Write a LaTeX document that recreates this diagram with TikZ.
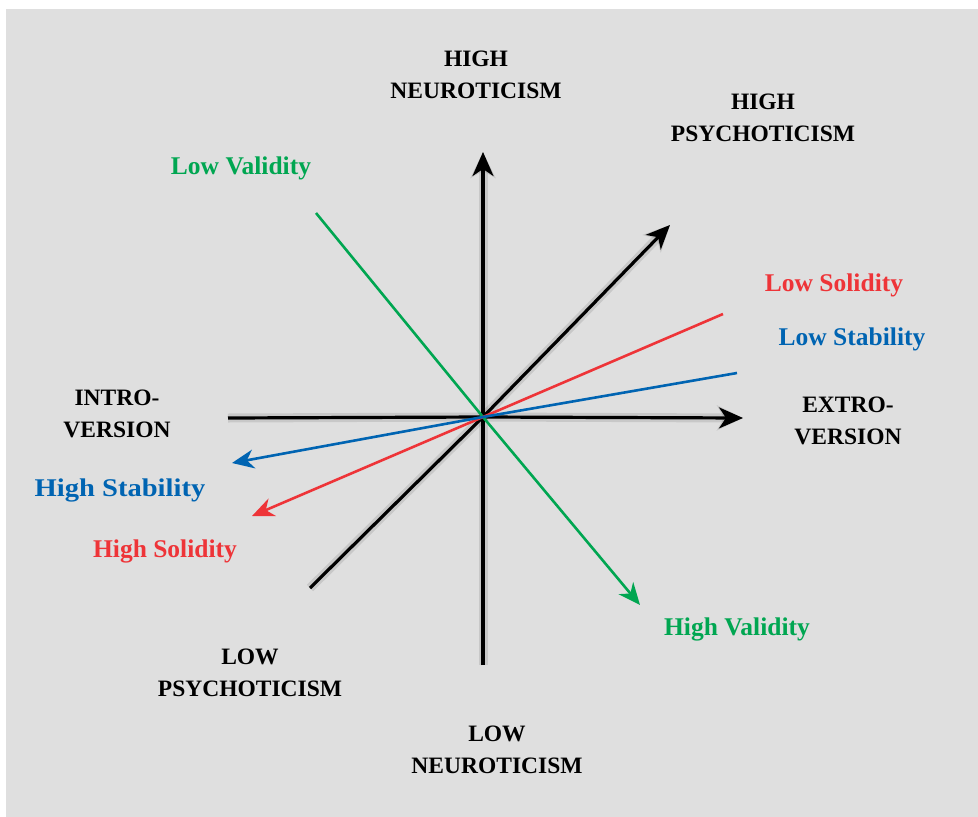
\documentclass[tikz,border=0pt]{standalone}
\usepackage{fontspec}
\setmainfont{Liberation Serif}
\usetikzlibrary{arrows.meta}

\definecolor{panel}{RGB}{223,223,223}
\definecolor{valgreen}{RGB}{0,166,81}
\definecolor{solred}{RGB}{238,52,56}
\definecolor{stabblue}{RGB}{0,100,178}

\tikzset{
  axis/.style={line width=3.2pt, black,
    -{Stealth[length=24pt,width=21pt,inset=7pt]}},
  axisplain/.style={line width=3.2pt, black},
  axisshadow/.style={line width=9pt, black, opacity=0.10,
    -{Stealth[length=26pt,width=25pt,inset=7pt]}},
  axisshadowplain/.style={line width=9pt, black, opacity=0.10},
  trait/.style={line width=2.6pt,
    -{Stealth[length=22pt,width=19pt,inset=7pt]}},
  traitplain/.style={line width=2.6pt},
  pole/.style={align=center, font=\fontsize{23.5}{32}\selectfont\bfseries},
  facet/.style={font=\fontsize{25.5}{30}\selectfont\bfseries},
}

\begin{document}
\begin{tikzpicture}[x=1pt, y=-1pt]
  % canvas and grey panel
  \fill[white] (0,0) rectangle (978,817);
  \fill[panel] (6,9) rectangle (978,817);
  \useasboundingbox (0,0) rectangle (978,817);

  % end points of the axes and trait lines
  \coordinate (O) at (483,417);
  \coordinate (NB) at (483,665);
  \coordinate (NT) at (483,152);
  \coordinate (EL) at (228,418);
  \coordinate (ER) at (743,418);
  \coordinate (PL) at (310,588);
  \coordinate (PT) at (670,225);
  \coordinate (VT) at (316,213);
  \coordinate (VB) at (640,605);
  \coordinate (SoR) at (723,314);
  \coordinate (SoL) at (252,516);
  \coordinate (StR) at (737,373);
  \coordinate (StL) at (232,463);

  % soft drop shadows under the black axes
  \begin{scope}[shift={(6,4)}]
    \draw[axisshadowplain] (NB) -- (O);
    \draw[axisshadow] (O) -- (NT);
    \draw[axisshadowplain] (EL) -- (O);
    \draw[axisshadow] (O) -- (ER);
    \draw[axisshadowplain] (PL) -- (O);
    \draw[axisshadow] (O) -- (PT);
  \end{scope}

  % black axes
  \draw[axisplain] (NB) -- (O);
  \draw[axis] (O) -- (NT);
  \draw[axisplain] (EL) -- (O);
  \draw[axis] (O) -- (ER);
  \draw[axisplain] (PL) -- (O);
  \draw[axis] (O) -- (PT);

  % coloured trait lines
  \draw[traitplain, valgreen] (VT) -- (O);
  \draw[trait, valgreen] (O) -- (VB);
  \draw[traitplain, solred] (SoR) -- (O);
  \draw[trait, solred] (O) -- (SoL);
  \draw[traitplain, stabblue] (StR) -- (O);
  \draw[trait, stabblue] (O) -- (StL);

  % pole labels
  \node[pole] (hn) at (476,75) {HIGH\\NEUROTICISM};
  \node[pole] (hp) at (763,118) {HIGH\\PSYCHOTICISM};
  \node[pole] (ex) at (848,421) {EXTRO-\\VERSION};
  \node[pole] (in) at (117,414) {INTRO-\\VERSION};
  \node[pole] (lp) at (250,673) {LOW\\PSYCHOTICISM};
  \node[pole] (ln) at (497,750) {LOW\\NEUROTICISM};

  % facet labels
  \node[facet, valgreen] (lv) at (241,168) {Low Validity};
  \node[facet, valgreen] (hv) at (737,629) {High Validity};
  \node[facet, solred] (lso) at (834,285) {Low Solidity};
  \node[facet, solred] (hso) at (165,551) {High Solidity};
  \node[facet, stabblue] (lst) at (852,339) {Low Stability};
  \node[facet, stabblue] (hst) at (120,490) {\scalebox{1.12}[1]{High Stability}};
\end{tikzpicture}
\end{document}
